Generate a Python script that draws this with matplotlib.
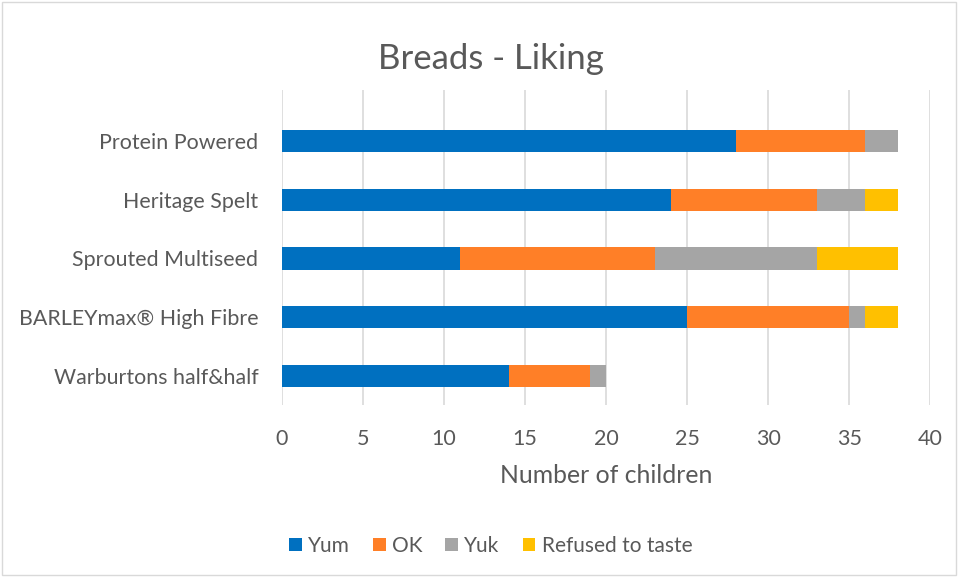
import matplotlib

matplotlib.use("Agg")
import matplotlib.pyplot as plt
import numpy as np

# bottom-to-top order as drawn
categories = [
    "Warburtons half&half",
    "BARLEYmax® High Fibre",
    "Sprouted Multiseed",
    "Heritage Spelt",
    "Protein Powered",
]
yum = [14, 25, 11, 24, 28]
ok = [5, 10, 12, 9, 8]
yuk = [1, 1, 10, 3, 2]
refused = [0, 2, 5, 2, 0]

series_names = ["Yum", "OK", "Yuk", "Refused to taste"]
colors = ["#0070C0", "#FF7F27", "#A5A5A5", "#FFC000"]
x_ticks = [0, 5, 10, 15, 20, 25, 30, 35, 40]

text_color = "#595959"
plt.rcParams["font.family"] = ["Lato", "DejaVu Sans"]

fig = plt.figure(figsize=(9.58, 5.77), dpi=100)
ax = fig.add_axes([0.2944, 0.298, 0.6766, 0.546])

y = np.arange(len(categories))
left = np.zeros(len(categories))
for name, values, color in zip(series_names, [yum, ok, yuk, refused], colors):
    ax.barh(y, values, left=left, height=0.38, color=color, label=name, zorder=3)
    left += np.array(values)

ax.set_xlim(0, 40)
ax.set_ylim(-0.5, 4.87)
ax.set_xticks(x_ticks)
ax.set_yticks(y, labels=categories)
ax.grid(axis="x", color="#D9D9D9", linewidth=1.2, zorder=0)
for spine in ax.spines.values():
    spine.set_visible(False)
ax.tick_params(axis="both", length=0, labelcolor=text_color)
ax.tick_params(axis="x", pad=17, labelsize=15.5)
ax.tick_params(axis="y", pad=17, labelsize=15.4)
ax.set_xlabel("Number of children", fontsize=17.8, color=text_color, labelpad=11)

fig.text(0.512, 0.897, "Breads - Liking", ha="center", va="center",
         fontsize=25, color=text_color)

fig.legend(loc="center", bbox_to_anchor=(0.512, 0.054), ncol=4, frameon=False,
           fontsize=15, labelcolor=text_color, handlelength=0.62, handleheight=0.62,
           handletextpad=0.3, columnspacing=1.1)

fig.patches.append(plt.Rectangle((0.002, 0.003), 0.996, 0.994, transform=fig.transFigure,
                                 fill=False, edgecolor="#D9D9D9", linewidth=1))

fig.savefig("out.png", dpi=100)
